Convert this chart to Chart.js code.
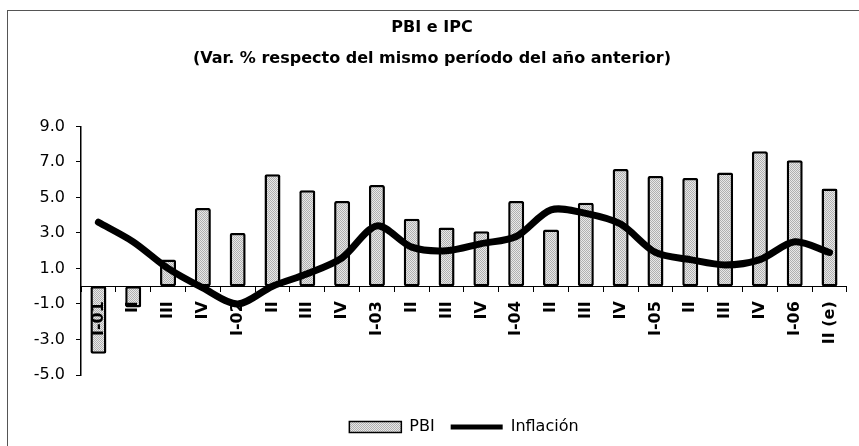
<!DOCTYPE html>
<html>
<head>
<meta charset="utf-8">
<script src="https://cdn.jsdelivr.net/npm/chart.js@4.4.1/dist/chart.umd.min.js"></script>
<style>
  html, body { margin: 0; padding: 0; background: #fff; overflow: hidden; }
  #wrap { position: relative; width: 859px; height: 446px; }
  #frame { position: absolute; left: 7px; top: 10px; width: 870px; height: 460px; border: 1px solid #555; }
  canvas { position: absolute; left: 0; top: 0; }
</style>
</head>
<body>
<div id="wrap"><div id="frame"></div><canvas id="chart" width="859" height="446"></canvas></div>
<script>
// quarters 2001 - 2006
const categories = ['I-01', 'II', 'III', 'IV', 'I-02', 'II', 'III', 'IV', 'I-03', 'II', 'III', 'IV',
  'I-04', 'II', 'III', 'IV', 'I-05', 'II', 'III', 'IV', 'I-06', 'II (e)'];
const pbi = [-3.8, -1.2, 1.5, 4.4, 3.0, 6.3, 5.4, 4.8, 5.7, 3.8, 3.3, 3.1,
  4.8, 3.2, 4.7, 6.6, 6.2, 6.1, 6.4, 7.6, 7.1, 5.5];
const inflacion = [3.6, 2.5, 1.0, -0.1, -1.0, 0.0, 0.7, 1.6, 3.4, 2.2, 2.0, 2.4,
  2.8, 4.3, 4.1, 3.5, 1.9, 1.5, 1.2, 1.5, 2.5, 1.9];
const yTicks = [-5, -3, -1, 1, 3, 5, 7, 9];

// dotted grey fill like the printed bars
function makePattern() {
  const c = document.createElement('canvas');
  c.width = 2;
  c.height = 2;
  const g = c.getContext('2d');
  g.fillStyle = '#e8e8e8';
  g.fillRect(0, 0, 2, 2);
  g.fillStyle = '#b0b0b0';
  g.fillRect(0, 0, 1, 1);
  g.fillRect(1, 1, 1, 1);
  return g.createPattern(c, 'repeat');
}
const dots = makePattern();

const titleFont = { family: 'DejaVu Sans', size: 16, weight: 'bold', lineHeight: 1.2 };

const ctx = document.getElementById('chart').getContext('2d');
new Chart(ctx, {
  type: 'bar',
  data: {
    labels: categories,
    datasets: [
      {
        type: 'bar',
        label: 'PBI',
        data: pbi,
        backgroundColor: dots,
        borderColor: '#000',
        borderWidth: 2.5,
        borderSkipped: false,
        borderRadius: 2,
        barPercentage: 0.46,
        categoryPercentage: 1,
        order: 1,
      },
      {
        type: 'line',
        label: 'Inflación',
        data: inflacion,
        borderColor: '#000',
        borderWidth: 7,
        tension: 0.3,
        pointRadius: 0,
        fill: false,
        borderCapStyle: 'round',
        borderJoinStyle: 'round',
        order: 0,
      },
    ],
  },
  options: {
    responsive: false,
    animation: false,
    layout: { padding: { left: 13, right: 8, top: 0, bottom: 1 } },
    plugins: {
      tooltip: { enabled: false },
      title: {
        display: true,
        text: 'PBI e IPC',
        color: '#000',
        font: titleFont,
        padding: { top: 18, bottom: 0 },
      },
      subtitle: {
        display: true,
        text: '(Var. % respecto del mismo período del año anterior)',
        color: '#000',
        font: titleFont,
        padding: { top: 12, bottom: 58 },
      },
      legend: {
        position: 'bottom',
        fullSize: false,
        title: { display: true, text: '', padding: { top: 18, bottom: 0 }, font: { size: 10, lineHeight: 1 } },
        labels: {
          usePointStyle: true,
          pointStyleWidth: 52,
          boxHeight: 11,
          padding: 16,
          color: '#000',
          font: { family: 'DejaVu Sans', size: 16 },
          sort: (a, b) => a.datasetIndex - b.datasetIndex,
          generateLabels: (chart) => {
            const items = Chart.defaults.plugins.legend.labels.generateLabels(chart);
            items.forEach((it) => {
              it.strokeStyle = '#000';
              if (it.datasetIndex === 0) {
                it.pointStyle = 'rect';
                it.fillStyle = dots;
                it.lineWidth = 1.5;
              } else {
                it.pointStyle = 'line';
                it.lineWidth = 5;
              }
            });
            return items;
          },
        },
      },
    },
    scales: {
      x: {
        type: 'category',
        position: { y: 0 },
        offset: true,
        grid: { offset: true, drawOnChartArea: false, drawTicks: true, tickLength: 5, color: '#000' },
        border: { color: '#000', width: 1 },
        ticks: {
          z: 1, // labels over the bars, as in the print
          minRotation: 90,
          maxRotation: 90,
          autoSkip: false,
          padding: 10,
          color: '#000',
          font: { family: 'DejaVu Sans', size: 16, weight: 'bold' },
        },
        afterFit: (s) => { s.height = 0; },
      },
      y: {
        min: -5,
        max: 9,
        afterBuildTicks: (s) => { s.ticks = yTicks.map((v) => ({ value: v })); },
        grid: { drawOnChartArea: false, drawTicks: true, tickLength: 5, color: '#000' },
        border: { color: '#000', width: 1.5 },
        ticks: {
          padding: 11,
          color: '#000',
          font: { family: 'DejaVu Sans', size: 16 },
          callback: (v) => Number(v).toFixed(1),
        },
        afterFit: (s) => { s.width = 68; },
      },
    },
  },
});
</script>
</body>
</html>
